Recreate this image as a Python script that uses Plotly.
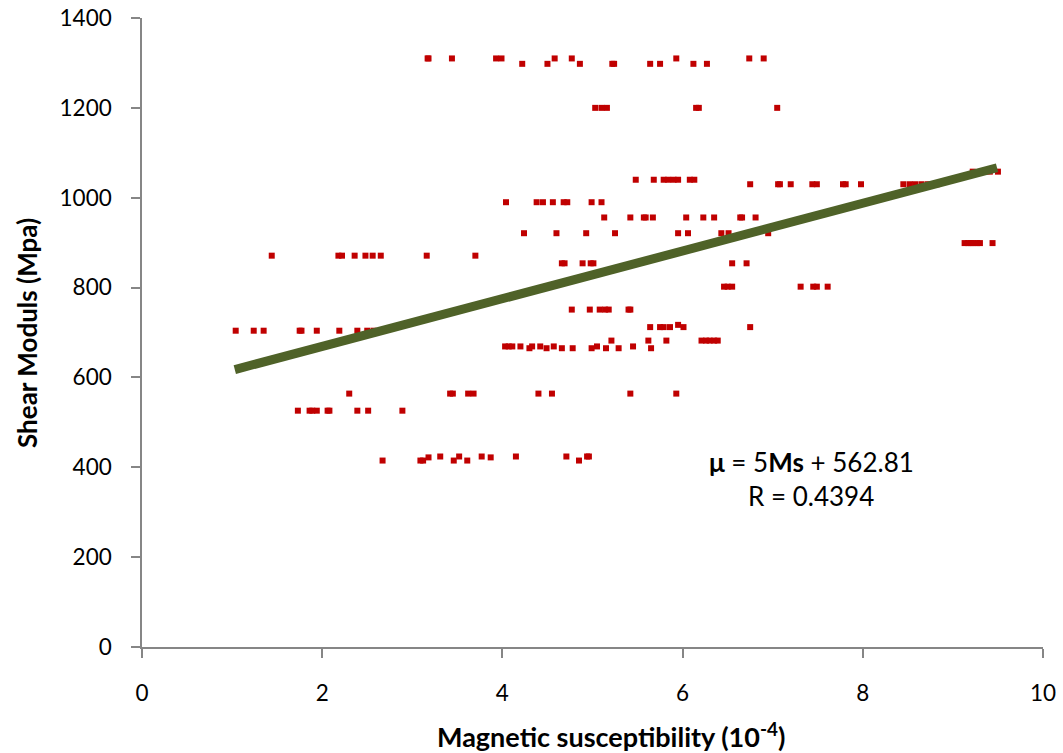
import plotly.graph_objects as go

# magnetic susceptibility (10^-4) and shear modulus (MPa), grouped by row
ms_1310 = [3.17, 3.18, 3.44, 3.93, 3.99, 4.58, 4.77, 5.93, 6.74, 6.90]
mu_1310 = [1310] * len(ms_1310)
ms_1298 = [4.22, 4.50, 4.86, 5.22, 5.24, 5.64, 5.75, 6.12, 6.27]
mu_1298 = [1298] * len(ms_1298)
ms_1200 = [5.03, 5.10, 5.16, 6.15, 6.18, 7.05]
mu_1200 = [1200] * len(ms_1200)
ms_1060 = [9.22, 9.33, 9.41, 9.50]
mu_1060 = [1058] * len(ms_1060)
ms_1040 = [5.48, 5.68, 5.79, 5.84, 5.90, 5.95, 6.08, 6.13]
mu_1040 = [1040] * len(ms_1040)
ms_1030 = [6.75, 7.06, 7.08, 7.20, 7.44, 7.49, 7.78, 7.81, 7.98, 8.45, 8.52, 8.58, 8.65, 8.72, 8.82]
mu_1030 = [1030] * len(ms_1030)
ms_990 = [4.04, 4.38, 4.45, 4.56, 4.68, 4.72, 4.99, 5.10]
mu_990 = [990] * len(ms_990)
ms_955 = [5.13, 5.42, 5.57, 5.59, 5.67, 6.04, 6.23, 6.35, 6.64, 6.66, 6.81]
mu_955 = [956] * len(ms_955)
ms_920 = [4.24, 4.60, 4.93, 5.25, 5.95, 6.06, 6.43, 6.51, 6.95]
mu_920 = [921] * len(ms_920)
ms_900 = [9.13, 9.17, 9.20, 9.23, 9.27, 9.30, 9.44]
mu_900 = [899] * len(ms_900)
ms_870 = [1.44, 2.18, 2.22, 2.36, 2.48, 2.56, 2.65, 3.16, 3.70]
mu_870 = [871] * len(ms_870)
ms_855 = [4.66, 4.69, 4.89, 4.98, 5.01, 6.55, 6.71]
mu_855 = [854] * len(ms_855)
ms_802 = [6.46, 6.50, 6.55, 7.31, 7.45, 7.49, 7.61]
mu_802 = [802] * len(ms_802)
ms_751 = [4.77, 4.97, 5.08, 5.14, 5.18, 5.40, 5.42]
mu_751 = [751] * len(ms_751)
ms_713 = [5.64, 5.75, 5.79, 5.86, 5.95, 6.01, 6.75]
mu_713 = [712, 712, 712, 712, 717, 712, 712]
ms_704 = [1.04, 1.24, 1.35, 1.75, 1.77, 1.94, 2.19, 2.39, 2.50, 2.57]
mu_704 = [704] * len(ms_704)
ms_682 = [5.21, 5.62, 5.82, 6.21, 6.26, 6.30, 6.35, 6.39]
mu_682 = [682] * len(ms_682)
ms_668 = [4.03, 4.07, 4.11, 4.20, 4.30, 4.33, 4.42, 4.49, 4.57, 4.66, 4.78, 4.99, 5.05, 5.15, 5.29, 5.45, 5.65]
mu_668 = [669, 669, 669, 669, 665, 669, 669, 665, 669, 665, 665, 665, 669, 665, 665, 669, 665]
ms_564 = [2.30, 3.42, 3.45, 3.62, 3.68, 4.40, 4.55, 5.42, 5.93]
mu_564 = [564] * len(ms_564)
ms_526 = [1.73, 1.86, 1.89, 1.94, 2.06, 2.08, 2.39, 2.51, 2.89]
mu_526 = [526] * len(ms_526)
ms_420 = [2.67, 3.09, 3.12, 3.18, 3.31, 3.46, 3.52, 3.61, 3.77, 3.87, 4.15, 4.71, 4.85, 4.94, 4.96]
mu_420 = [415, 415, 415, 422, 424, 415, 424, 415, 424, 422, 424, 424, 415, 424, 424]

ms = (ms_1310 + ms_1298 + ms_1200 + ms_1060 + ms_1040 + ms_1030 + ms_990 + ms_955 + ms_920
      + ms_900 + ms_870 + ms_855 + ms_802 + ms_751 + ms_713 + ms_704 + ms_682 + ms_668
      + ms_564 + ms_526 + ms_420)
mu = (mu_1310 + mu_1298 + mu_1200 + mu_1060 + mu_1040 + mu_1030 + mu_990 + mu_955 + mu_920
      + mu_900 + mu_870 + mu_855 + mu_802 + mu_751 + mu_713 + mu_704 + mu_682 + mu_668
      + mu_564 + mu_526 + mu_420)

# linear trend as drawn
fit_slope = 53.1
fit_intercept = 562.81
fit_x = [1.03, 9.49]
fit_y = [fit_intercept + fit_slope * v for v in fit_x]

FONT = "Lato, Carlito, Calibri, sans-serif"
AXIS_COLOR = "#868686"

# plot area in page pixels
L, R, T, B = 142, 1043, 18, 647

fig = go.Figure()
fig.add_trace(go.Scatter(
    x=ms, y=mu, mode="markers",
    marker=dict(symbol="square", size=6, color="#C00000", line=dict(width=0)),
    showlegend=False,
))
fig.add_trace(go.Scatter(
    x=fit_x, y=fit_y, mode="lines",
    line=dict(color="#4F6228", width=9),
    showlegend=False,
))

axis_style = dict(
    showgrid=False, zeroline=False, automargin=False,
    showline=True, linecolor=AXIS_COLOR, linewidth=1.5,
    ticks="outside", tickcolor=AXIS_COLOR, ticklen=9, tickwidth=1.5,
    tickfont=dict(size=22.5),
)

fig.update_layout(
    width=1063, height=753,
    margin=dict(l=L, r=1063 - R, t=T, b=753 - B),
    paper_bgcolor="white", plot_bgcolor="white",
    font=dict(family=FONT, size=20, color="black"),
    showlegend=False,
    xaxis=dict(range=[0, 10], tickvals=[0, 2, 4, 6, 8, 10], ticklabelstandoff=16, **axis_style),
    yaxis=dict(range=[0, 1400], tickvals=list(range(0, 1401, 200)), ticklabelstandoff=15, **axis_style),
    annotations=[
        dict(text="<b>Magnetic susceptibility (10<sup>-4</sup>)</b>",
             x=(611 - L) / (R - L), y=-(735 - B) / (B - T),
             xref="paper", yref="paper", xanchor="center", yanchor="middle",
             showarrow=False, font=dict(size=27)),
        dict(text="<b>Shear Moduls (Mpa)</b>", textangle=-90,
             x=(27 - L) / (R - L), y=(B - 333) / (B - T),
             xref="paper", yref="paper", xanchor="center", yanchor="middle",
             showarrow=False, font=dict(size=26)),
        dict(text="<b>μ</b> = 5<b>Ms</b> + 562.81", x=7.43, y=411,
             xref="x", yref="y", showarrow=False, font=dict(size=26)),
        dict(text="R = 0.4394", x=7.42, y=335,
             xref="x", yref="y", showarrow=False, font=dict(size=26)),
    ],
)

fig.write_html("out.html", config={"displayModeBar": False},
               post_script="document.body.style.margin='0px';")
